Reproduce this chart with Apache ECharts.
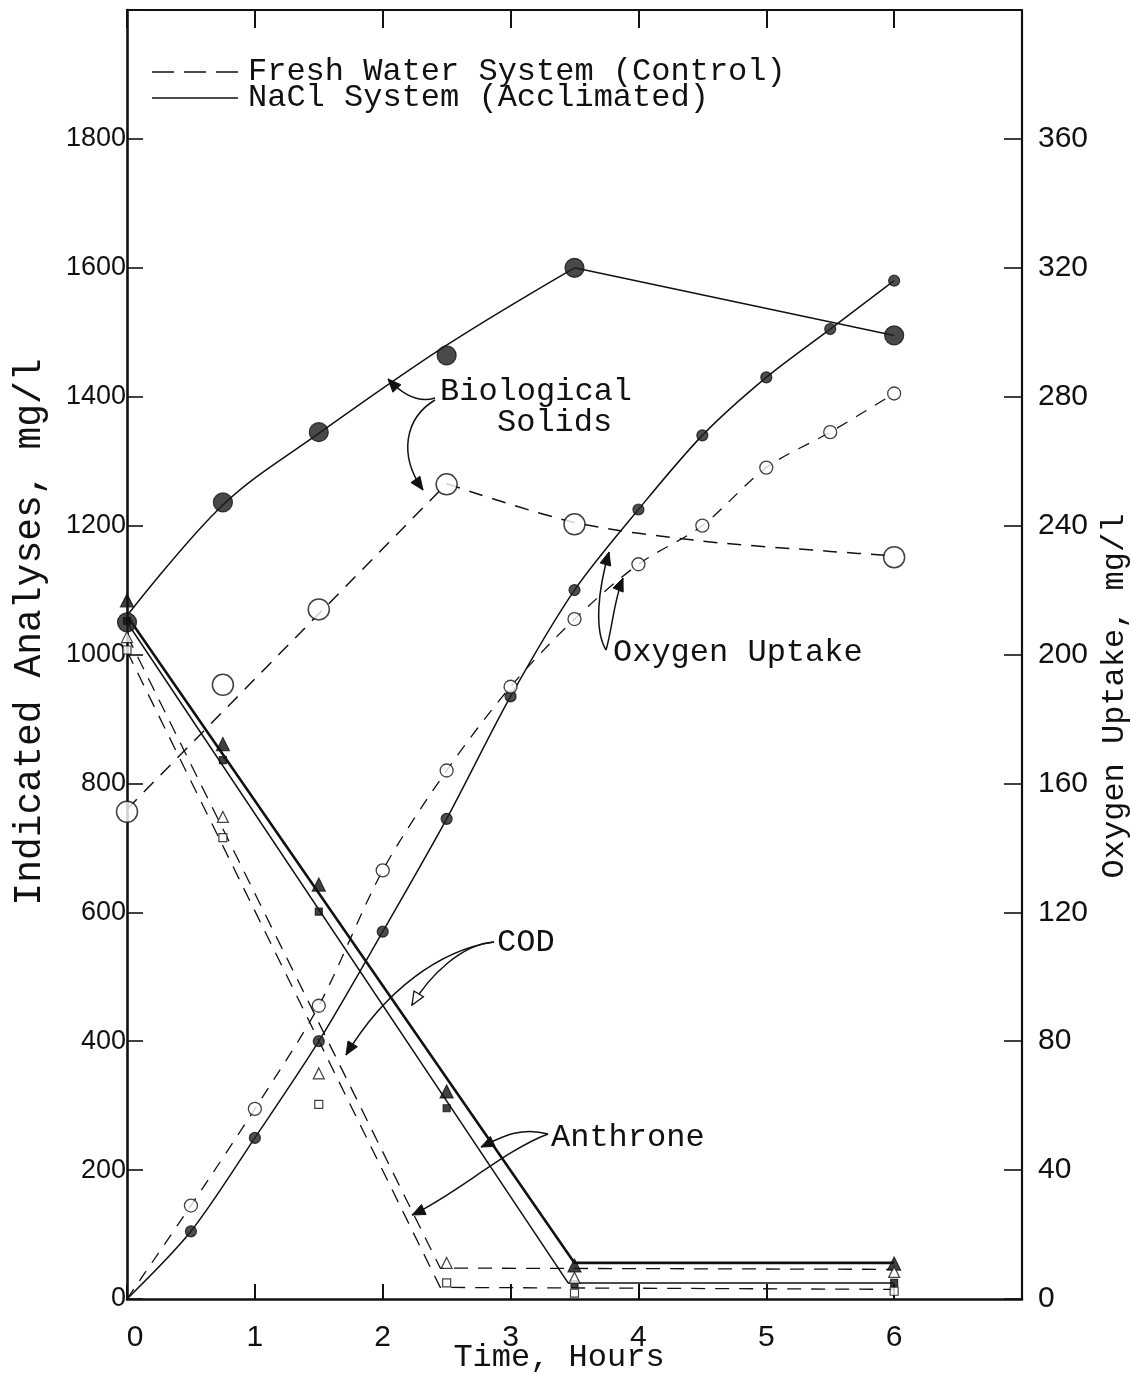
<!DOCTYPE html>
<html>
<head>
<meta charset="utf-8">
<script src="https://cdn.jsdelivr.net/npm/echarts@6/dist/echarts.min.js"></script>
<style>
html, body { margin: 0; padding: 0; background: #fff; }
#chart { width: 1131px; height: 1375px; }
</style>
</head>
<body>
<div id="chart"></div>
<script>
// ---- Biological solids, mg/l ----
const solidsTimes = [0, 0.75, 1.5, 2.5, 3.5, 6];
const solidsNaCl = [1050, 1236, 1345, 1464, 1600, 1495];
const solidsFresh = [756, 953, 1070, 1264, 1202, 1151];

// hand-drawn curves through the solids data
const solidsNaClCurveTimes = [0, 0.75, 1.5, 2.5, 3.5];
const solidsNaClCurve = [1060, 1232, 1343, 1480, 1600];
const solidsNaClTailTimes = [3.5, 6];
const solidsNaClTail = [1600, 1495];
const solidsFreshRiseTimes = [0, 2.5];
const solidsFreshRise = [760, 1265];
const solidsFreshFallTimes = [2.5, 3.5, 4.5, 5.5, 6];
const solidsFreshFall = [1265, 1205, 1176, 1160, 1153];

// ---- Oxygen uptake, mg/l (right scale) ----
const oxygenTimes = [0, 0.5, 1, 1.5, 2, 2.5, 3, 3.5, 4, 4.5, 5, 5.5, 6];
const oxygenNaCl = [0, 21, 50, 80, 114, 149, 187, 220, 245, 268, 286, 301, 316];
const oxygenFresh = [0, 29, 59, 91, 133, 164, 190, 211, 228, 240, 258, 269, 281];

// ---- COD and anthrone, mg/l ----
const analysisTimes = [0, 0.75, 1.5, 2.5, 3.5, 6];
const codNaCl = [1084, 861, 643, 322, 52, 55];
const anthroneNaCl = [1052, 836, 601, 296, 23, 25];
const codFresh = [1027, 748, 350, 56, 33, 42];
const anthroneFresh = [1007, 716, 302, 25, 9, 12];

// straight removal lines drawn through the COD / anthrone data
const codNaClFitTimes = [0, 3.5, 6];
const codNaClFit = [1060, 56, 56];
const anthroneNaClFitTimes = [0, 3.45, 6];
const anthroneNaClFit = [1050, 25, 25];
const codFreshFitTimes = [0, 2.45, 6];
const codFreshFit = [1030, 48, 46];
const anthroneFreshFitTimes = [0, 2.45, 6];
const anthroneFreshFit = [1005, 18, 15];

const legendLabels = ['Fresh Water System (Control)', 'NaCl System (Acclimated)'];

const INK = '#111';
const MONO = '"Liberation Mono", "DejaVu Sans Mono", monospace';
const SANS = '"Liberation Sans", "DejaVu Sans", sans-serif';

function zip(xs, ys) { return xs.map((x, i) => [x, ys[i]]); }

function curve(name, xs, ys, opts) {
  return {
    name, type: 'line', data: zip(xs, ys), symbol: 'none', silent: true,
    smooth: opts.smooth || false, yAxisIndex: opts.axis || 0, z: 2,
    lineStyle: { color: INK, width: opts.width || 1.5, type: opts.dash ? opts.dash : 'solid' }
  };
}

function points(name, xs, ys, opts) {
  return {
    name, type: 'scatter', data: zip(xs, ys), symbol: opts.symbol,
    symbolSize: opts.size, yAxisIndex: opts.axis || 0, z: 5,
    itemStyle: opts.open
      ? { color: '#fff', borderColor: INK, borderWidth: opts.border || 1.5 }
      : { color: opts.fill || INK, borderColor: INK, borderWidth: 1.2 }
  };
}

const dashLong = [14, 10];

const series = [
  // biological solids
  curve('Solids NaCl curve', solidsNaClCurveTimes, solidsNaClCurve, { smooth: 0.35 }),
  curve('Solids NaCl tail', solidsNaClTailTimes, solidsNaClTail, {}),
  curve('Solids fresh rise', solidsFreshRiseTimes, solidsFreshRise, { dash: dashLong }),
  curve('Solids fresh fall', solidsFreshFallTimes, solidsFreshFall, { smooth: 0.3, dash: dashLong }),
  points('Solids NaCl', solidsTimes, solidsNaCl, { symbol: 'circle', size: 19, fill: '#1c1c1c' }),
  points('Solids fresh', solidsTimes, solidsFresh, { symbol: 'circle', size: 21, open: true }),

  // oxygen uptake
  curve('Oxygen NaCl curve', oxygenTimes, oxygenNaCl, { smooth: 0.3, axis: 1 }),
  curve('Oxygen fresh curve', oxygenTimes, oxygenFresh, { smooth: 0.3, axis: 1, dash: [12, 10], width: 1.3 }),
  points('Oxygen NaCl', oxygenTimes.slice(1), oxygenNaCl.slice(1), { symbol: 'circle', size: 11, fill: '#222', axis: 1 }),
  points('Oxygen fresh', oxygenTimes.slice(1), oxygenFresh.slice(1), { symbol: 'circle', size: 13, open: true, border: 1.3, axis: 1 }),

  // COD and anthrone
  curve('COD NaCl line', codNaClFitTimes, codNaClFit, { width: 2.6 }),
  curve('Anthrone NaCl line', anthroneNaClFitTimes, anthroneNaClFit, { width: 1.5 }),
  curve('COD fresh line', codFreshFitTimes, codFreshFit, { dash: dashLong, width: 1.3 }),
  curve('Anthrone fresh line', anthroneFreshFitTimes, anthroneFreshFit, { dash: dashLong, width: 1.3 }),
  points('COD NaCl', analysisTimes, codNaCl, { symbol: 'triangle', size: 13 }),
  points('Anthrone NaCl', analysisTimes, anthroneNaCl, { symbol: 'rect', size: 7 }),
  points('COD fresh', analysisTimes, codFresh, { symbol: 'triangle', size: 11, open: true, border: 1.2 }),
  points('Anthrone fresh', analysisTimes, anthroneFresh, { symbol: 'rect', size: 8, open: true, border: 1.2 })
];

const chart = echarts.init(document.getElementById('chart'), null, { renderer: 'canvas' });

const axisLine = (w) => ({ show: true, onZero: false, lineStyle: { color: INK, width: w } });

chart.setOption({
  backgroundColor: '#fff',
  animation: false,
  grid: { left: 127, right: 109, top: 10, bottom: 76, containLabel: false, outerBoundsMode: 'none' },
  xAxis: [
    {
      type: 'value', min: 0, max: 7, interval: 1, position: 'bottom',
      name: 'Time, Hours', nameLocation: 'middle', nameGap: 43, nameMoveOverlap: false,
      nameTextStyle: { color: INK, fontFamily: MONO, fontSize: 32, padding: [0, 31, 0, 0] },
      axisLine: axisLine(2.6),
      axisTick: { inside: true, length: 15, lineStyle: { color: INK, width: 2 } },
      axisLabel: {
        color: INK, fontFamily: SANS, fontSize: 30, margin: 24,
        formatter: (v) => (v === 0 ? '{z|0}' : (v <= 6 ? String(v) : '')),
        rich: { z: { color: INK, fontFamily: SANS, fontSize: 30, padding: [0, 0, 0, 16] } }
      },
      splitLine: { show: false }
    },
    {
      type: 'value', min: 0, max: 7, interval: 1, position: 'top',
      axisLine: axisLine(2.2),
      axisTick: { inside: true, length: 18, lineStyle: { color: INK, width: 2 } },
      axisLabel: { show: false },
      splitLine: { show: false }
    }
  ],
  yAxis: [
    {
      type: 'value', min: 0, max: 2000, interval: 200, position: 'left',
      name: 'Indicated Analyses, mg/l', nameLocation: 'middle', nameGap: 78, nameRotate: 90,
      nameTextStyle: { color: INK, fontFamily: MONO, fontSize: 38, padding: [0, 0, 0, 45] },
      axisLine: axisLine(2.6),
      axisTick: { inside: true, length: 16, lineStyle: { color: INK, width: 1.6 } },
      axisLabel: {
        color: INK, fontFamily: SANS, fontSize: 27, margin: 1,
        formatter: (v) => (v < 2000 ? String(v) : '')
      },
      splitLine: { show: false }
    },
    {
      type: 'value', min: 0, max: 400, interval: 40, position: 'right',
      name: 'Oxygen Uptake, mg/l', nameLocation: 'middle', nameGap: 72, nameRotate: 90,
      nameTextStyle: { color: INK, fontFamily: MONO, fontSize: 32, padding: [0, 83, 0, 0] },
      axisLine: axisLine(2.2),
      axisTick: { inside: true, length: 18, lineStyle: { color: INK, width: 1.6 } },
      axisLabel: {
        color: INK, fontFamily: SANS, fontSize: 30, margin: 16,
        formatter: (v) => (v < 400 ? String(v) : '')
      },
      splitLine: { show: false }
    }
  ],
  series
});

// ---- legend and callout arrows ----
function arrowHead(tip, from, len, half, filled) {
  const dx = tip[0] - from[0], dy = tip[1] - from[1];
  const d = Math.hypot(dx, dy) || 1;
  const ux = dx / d, uy = dy / d;
  const bx = tip[0] - ux * len, by = tip[1] - uy * len;
  return {
    type: 'polygon', silent: true, z: 20,
    shape: { points: [tip, [bx - uy * half, by + ux * half], [bx + uy * half, by - ux * half]] },
    style: filled ? { fill: INK, stroke: INK, lineWidth: 1 } : { fill: '#fff', stroke: INK, lineWidth: 1.3 }
  };
}

function callout(p0, c1, c2, p1, filled) {
  return [
    {
      type: 'bezierCurve', silent: true, z: 20,
      shape: { x1: p0[0], y1: p0[1], cpx1: c1[0], cpy1: c1[1], cpx2: c2[0], cpy2: c2[1], x2: p1[0], y2: p1[1] },
      style: { stroke: INK, lineWidth: 1.5, fill: null }
    },
    arrowHead(p1, c2, 13, 5.5, filled)
  ];
}

function label(text, x, y) {
  return {
    type: 'text', silent: true, z: 20,
    style: { text, x, y, fill: INK, font: '32px ' + MONO, align: 'left', verticalAlign: 'middle' }
  };
}

const graphics = [
  // legend
  { type: 'line', silent: true, shape: { x1: 152, y1: 72, x2: 246, y2: 72 },
    style: { stroke: INK, lineWidth: 1.6, lineDash: [22, 10] } },
  label(legendLabels[0], 248, 72),
  { type: 'line', silent: true, shape: { x1: 152, y1: 98, x2: 238, y2: 98 },
    style: { stroke: INK, lineWidth: 1.6 } },
  label(legendLabels[1], 248, 98),

  // Biological Solids
  label('Biological', 440, 392),
  label('Solids', 497, 423),
  ...callout([435, 398], [420, 403], [404, 396], [388, 379], true),
  ...callout([435, 400], [405, 418], [398, 455], [423, 490], true),

  // Oxygen Uptake
  label('Oxygen Uptake', 613, 653),
  ...callout([606, 650], [594, 630], [598, 590], [609, 552], true),
  ...callout([606, 650], [612, 630], [614, 600], [623, 578], true),

  // COD
  label('COD', 497, 943),
  ...callout([494, 942], [462, 944], [430, 975], [412, 1005], false),
  ...callout([494, 942], [440, 950], [385, 990], [346, 1055], true),

  // Anthrone
  label('Anthrone', 551, 1138),
  ...callout([548, 1134], [520, 1126], [500, 1138], [481, 1147], true),
  ...callout([548, 1134], [505, 1150], [455, 1195], [412, 1215], true)
];

chart.setOption({ graphic: graphics });
</script>
</body>
</html>
